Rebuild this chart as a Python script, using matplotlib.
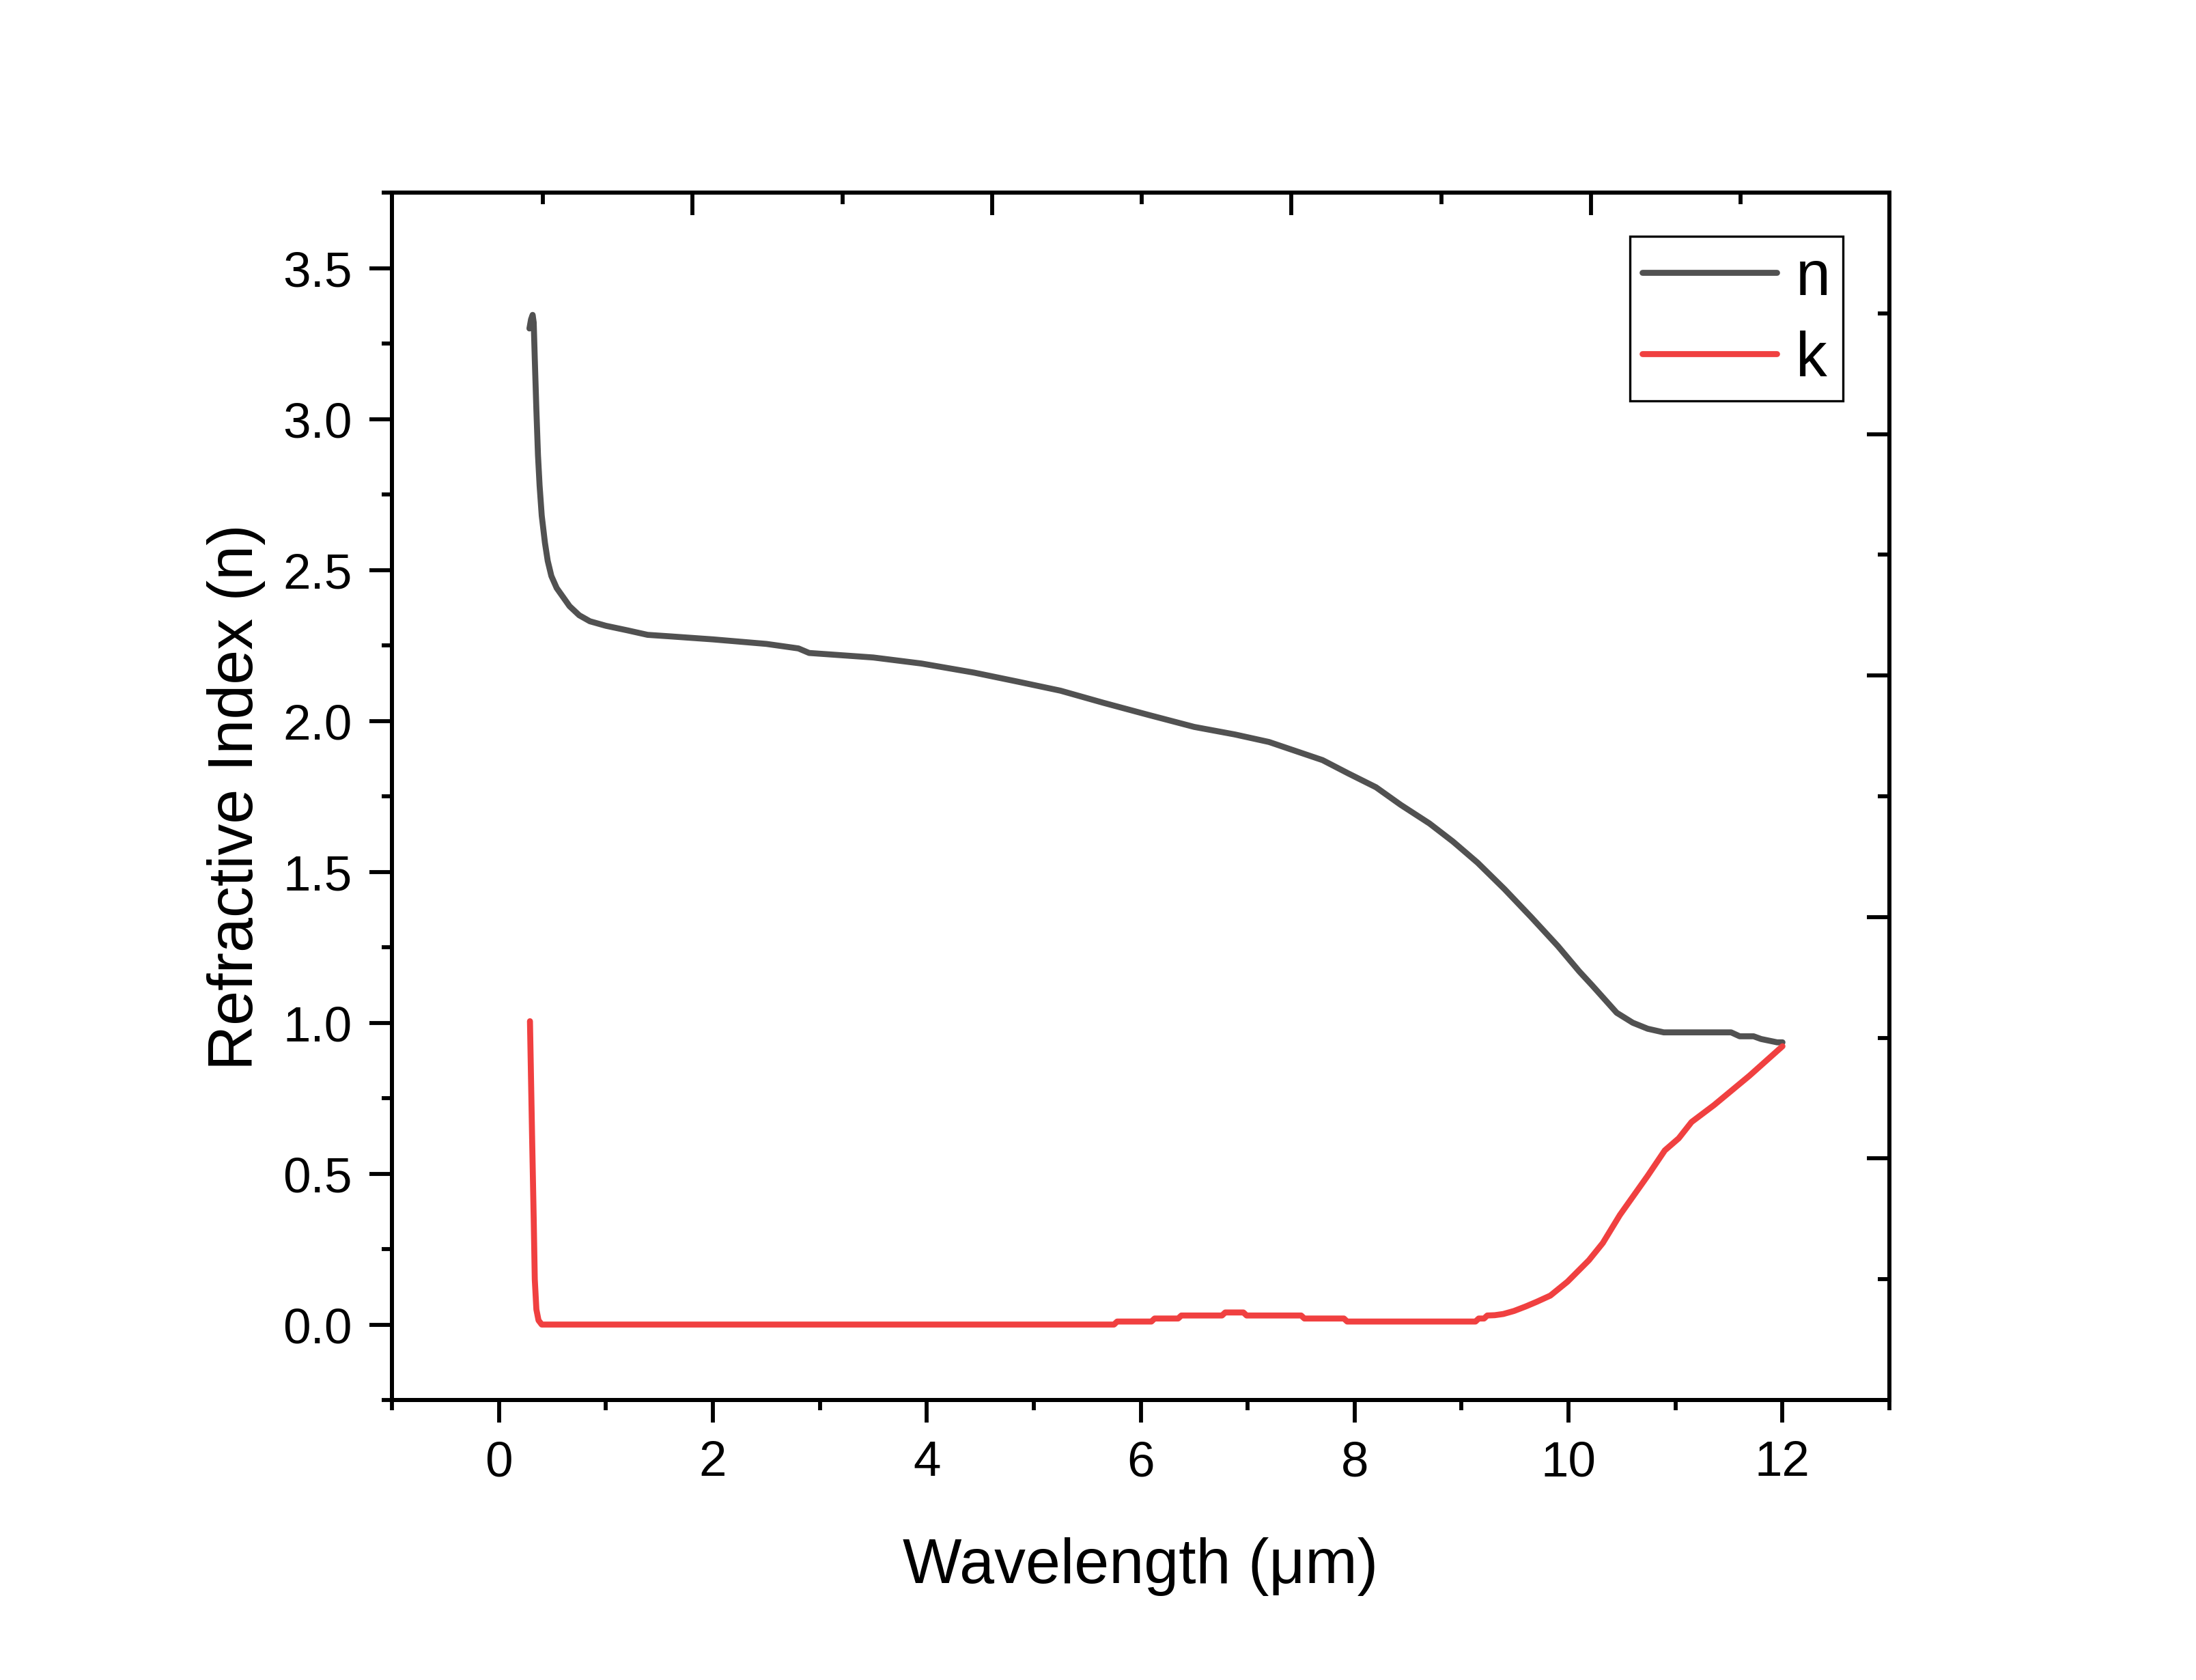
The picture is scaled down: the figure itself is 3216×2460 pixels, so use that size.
import matplotlib.pyplot as plt
from matplotlib.ticker import FixedLocator, MultipleLocator, NullFormatter

plt.rcParams['font.family'] = ['Liberation Sans', 'DejaVu Sans']

# n (refractive index)
n_wl = [0.285, 0.30, 0.315, 0.325, 0.335, 0.35, 0.365, 0.38, 0.40, 0.43, 0.456, 0.49,
        0.54, 0.60, 0.66, 0.75, 0.85, 1.0, 1.2, 1.39, 1.6, 2.0, 2.5, 2.8, 2.9, 3.5,
        3.95, 4.44, 4.85, 5.25, 5.65, 6.07, 6.5, 6.88, 7.2, 7.45, 7.7, 7.94, 8.2,
        8.43, 8.7, 8.92, 9.15, 9.4, 9.65, 9.9, 10.1, 10.22, 10.45, 10.6, 10.74,
        10.89, 11.52, 11.6, 11.73, 11.8, 11.95, 12.0]
n_val = [3.30, 3.33, 3.345, 3.32, 3.20, 3.03, 2.88, 2.78, 2.68, 2.59, 2.53, 2.48,
         2.44, 2.41, 2.38, 2.35, 2.33, 2.315, 2.30, 2.285, 2.28, 2.27, 2.255, 2.24,
         2.225, 2.21, 2.19, 2.16, 2.13, 2.10, 2.06, 2.02, 1.98, 1.955, 1.93, 1.90,
         1.87, 1.826, 1.78, 1.722, 1.66, 1.60, 1.53, 1.443, 1.35, 1.254, 1.17,
         1.124, 1.033, 1.0, 0.98, 0.968, 0.968, 0.955, 0.955, 0.946, 0.935, 0.935]

# k (extinction coefficient)
k_wl = [0.29, 0.31, 0.325, 0.335, 0.35, 0.37, 0.40, 5.75, 5.78, 6.10, 6.13, 6.35,
        6.38, 6.76, 6.79, 6.96, 6.99, 7.50, 7.53, 7.90, 7.93, 9.13, 9.16, 9.21,
        9.24, 9.31, 9.39, 9.49, 9.6, 9.7, 9.83, 9.99, 10.19, 10.32, 10.48, 10.61,
        10.74, 10.9, 11.03, 11.15, 11.36, 11.69, 12.0]
k_val = [1.005, 0.62, 0.35, 0.15, 0.05, 0.014, 0.0, 0.0, 0.01, 0.01, 0.02, 0.02,
         0.03, 0.03, 0.04, 0.04, 0.03, 0.03, 0.02, 0.02, 0.01, 0.01, 0.02, 0.02,
         0.03, 0.031, 0.035, 0.045, 0.06, 0.075, 0.096, 0.142, 0.213, 0.27, 0.363,
         0.428, 0.493, 0.577, 0.617, 0.671, 0.727, 0.824, 0.922]

# tick positions of the unlabeled top / right axes
top_major = [1.81, 4.61, 7.41, 10.21]
top_minor = [0.41, 3.21, 6.01, 8.81, 11.61]
right_major = [0.55, 1.35, 2.15, 2.95]
right_minor = [0.15, 0.95, 1.75, 2.55, 3.35]

fig = plt.figure(figsize=(10.72, 8.203), dpi=300)
ax = fig.add_axes([0.1785, 0.1666, 0.6819, 0.7184])

ax.plot(n_wl, n_val, color='#515151', lw=2.1, label='n', solid_capstyle='round')
ax.plot(k_wl, k_val, color='#F04040', lw=2.1, label='k', solid_capstyle='round')

ax.set_xlim(-1, 13)
ax.set_ylim(-0.25, 3.75)
ax.xaxis.set_major_locator(MultipleLocator(2))
ax.xaxis.set_minor_locator(MultipleLocator(1))
ax.yaxis.set_major_locator(MultipleLocator(0.5))
ax.yaxis.set_minor_locator(MultipleLocator(0.25))
ax.tick_params(which='major', direction='out', length=8, width=1.4, labelsize=17.5, pad=6)
ax.tick_params(which='minor', direction='out', length=3.5, width=1.4)
for s in ax.spines.values():
    s.set_linewidth(1.4)

ax.set_xlabel('Wavelength (\u03bcm)', fontsize=22, labelpad=18)
ax.set_ylabel('Refractive Index (n)', fontsize=22, labelpad=6)

# top axis ticks (inward, no labels)
axt = ax.twiny()
axt.set_xlim(ax.get_xlim())
axt.xaxis.set_major_locator(FixedLocator(top_major))
axt.xaxis.set_minor_locator(FixedLocator(top_minor))
axt.xaxis.set_major_formatter(NullFormatter())
axt.tick_params(which='major', direction='in', length=8, width=1.4)
axt.tick_params(which='minor', direction='in', length=4, width=1.4)

# right axis ticks (inward, no labels)
axr = ax.twinx()
axr.set_ylim(ax.get_ylim())
axr.yaxis.set_major_locator(FixedLocator(right_major))
axr.yaxis.set_minor_locator(FixedLocator(right_minor))
axr.yaxis.set_major_formatter(NullFormatter())
axr.tick_params(which='major', direction='in', length=8, width=1.4)
axr.tick_params(which='minor', direction='in', length=4, width=1.4)
for a in (axt, axr):
    for s in a.spines.values():
        s.set_linewidth(1.4)

leg = ax.legend(loc='upper right', bbox_to_anchor=(0.969, 0.964), fontsize=22,
                handlelength=2.15, handletextpad=0.3, labelspacing=0.36,
                borderpad=0.2, borderaxespad=0, fancybox=False, framealpha=1,
                edgecolor='black')
leg.get_frame().set_linewidth(0.8)
leg.set_zorder(5)

fig.savefig('out.png', dpi=300)
